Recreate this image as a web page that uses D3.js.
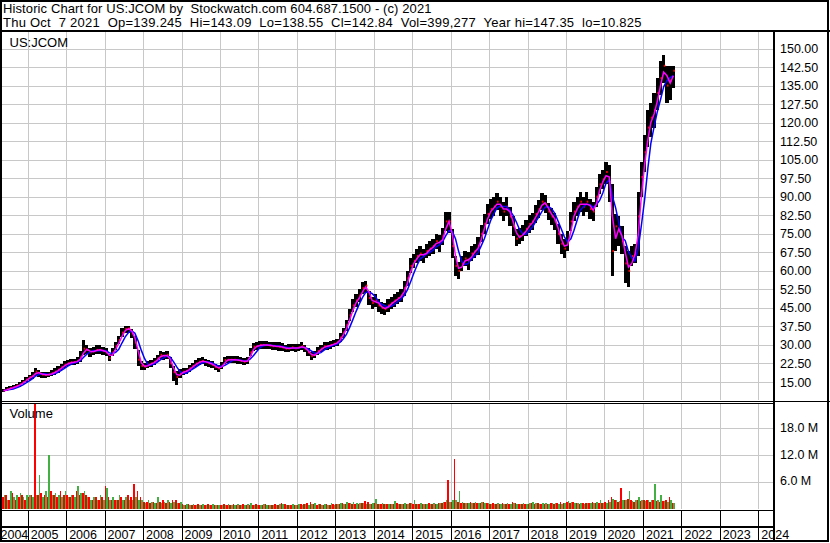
<!DOCTYPE html>
<html><head><meta charset="utf-8">
<script src="https://cdn.jsdelivr.net/npm/d3@7"></script>
<style>
html,body{margin:0;padding:0;background:#fff;}
svg{display:block;font-family:"Liberation Sans",Arial,sans-serif;}
text{white-space:pre;}
</style></head><body>
<svg id="chart" width="830" height="543"></svg>
<script>
// ---------- texts ----------
const titleLine1 = "Historic Chart for US:JCOM by  Stockwatch.com 604.687.1500 - (c) 2021";
const titleLine2 = "Thu Oct  7 2021  Op=139.245  Hi=143.09  Lo=138.55  Cl=142.84  Vol=399,277  Year hi=147.35  lo=10.825";
const symbolLabel = "US:JCOM";
const volumeLabel = "Volume";

// ---------- ticks ----------
const priceTicks = [15, 22.5, 30, 37.5, 45, 52.5, 60, 67.5, 75, 82.5, 90, 97.5, 105, 112.5, 120, 127.5, 135, 142.5, 150];
const volumeTicks = [6, 12, 18];           // millions
const yearLabels = ["2004","2005","2006","2007","2008","2009","2010","2011","2012","2013","2014","2015","2016","2017","2018","2019","2020","2021","2022","2023","2024"];

// ---------- monthly data, May 2004 .. Oct 2021 ----------
const firstYear = 2004, firstMonth = 4; // May (0-based)
const close = [
  11.5, 12, 12.5, 12.8, 13.5, 14, 15, 16,
  17, 17.5, 19.2, 18.5, 18, 17.8, 18, 18.5, 19.2, 20, 21, 22,
  22.6, 23, 23, 23.5, 25, 28.5, 28, 27, 27.5, 28, 28, 27.5,
  27, 24.6, 27, 29.5, 32, 35, 36.5, 36.7, 34.7, 31, 24, 21.5,
  21.2, 22, 22.5, 23.2, 24.5, 26, 25.5, 26, 22.6, 19, 17, 18.5,
  19.2, 19.5, 20.5, 21.5, 22.5, 23.2, 23.5, 23, 22.6, 22, 21, 20.5,
  21.5, 23.9, 24, 24, 24, 23.9, 23.5, 23.2, 23.5, 27, 29.3, 29.5,
  30, 30, 30, 29.8, 29.5, 29.5, 29.3, 29, 28.5, 28.6, 29, 28.6,
  29, 29.5, 28.5, 27, 25.5, 26, 27.5, 28.5, 29.5, 29.5, 30, 30.5,
  31, 33, 35, 38, 42, 46, 48, 50, 53, 54, 49, 47,
  48, 46, 45, 44.5, 46, 47, 48, 49, 50, 53, 57, 62,
  64, 66, 67, 66, 68, 69, 70, 72, 71, 74, 80, 80,
  70, 62, 60, 63, 65, 64, 67, 68, 70, 75, 79, 83,
  85, 86, 88, 86, 84, 86, 82, 78, 73, 74, 75, 77,
  79, 80, 83, 85, 88, 87, 84, 82, 80, 75, 71, 69,
  72, 80, 84, 86, 88, 86, 88, 85, 84, 90, 95, 97,
  100, 96, 68, 78, 76, 72, 63, 60, 66, 67, 82, 98,
  108, 118, 122, 125, 132, 138, 143, 135, 137, 141
];
const high = [
  12.3, 12.8, 13.3, 13.6, 14.3, 15, 16, 17,
  18, 19, 20.8, 19.8, 19.2, 19, 19.2, 19.8, 20.5, 21.3, 22.4, 23.5,
  24, 24.3, 24.5, 25, 27.5, 32, 30, 28.8, 29.2, 29.8, 29.8, 29.2,
  28.6, 26.5, 28.8, 31.2, 33.8, 36.8, 37.5, 37.8, 36.5, 33.5, 28, 23.5,
  22.8, 23.4, 24, 24.6, 26, 27.5, 27.2, 27.5, 25, 21.5, 19.5, 20.3,
  20.6, 20.8, 21.8, 22.8, 23.9, 24.6, 25, 24.4, 24, 23.4, 22.4, 21.8,
  23, 25.3, 25.4, 25.5, 25.5, 25.4, 25, 24.6, 25, 28.6, 30.8, 31,
  31.5, 31.6, 31.5, 31.3, 31, 31, 31, 30.6, 30, 30.2, 30.5, 30.2,
  30.5, 31, 30, 28.6, 27, 27.5, 29, 30, 31, 31, 31.5, 32,
  32.5, 35, 37, 40, 44.5, 48.5, 50.5, 52.5, 55.5, 56, 52, 49.5,
  50.5, 48.5, 47.5, 47, 48.5, 49.5, 50.5, 51.5, 52.5, 56, 60, 65,
  67, 69, 70, 69, 71, 72, 73, 75, 74.5, 77.5, 84, 84,
  77, 66, 63.5, 66, 68, 67.5, 70, 71, 73.5, 78.5, 83, 87,
  89, 90, 91.5, 90, 88, 90, 86, 82, 77, 77.5, 78.5, 80.5,
  82.5, 83.5, 86.5, 88.5, 91.5, 90.5, 87.5, 85.5, 83.5, 79, 75, 73,
  76, 84, 88, 90, 92, 90, 92, 89, 88, 94, 99, 101,
  104, 103, 95, 83, 82, 78, 70, 68, 70, 71, 92, 104,
  115, 125, 128, 132, 138, 145, 147.4, 143, 143, 143.1
];
const low = [
  10.8, 11.2, 11.7, 12.0, 12.7, 13.1, 14.1, 15,
  16, 16.4, 17.6, 17.2, 16.8, 16.6, 16.9, 17.3, 18, 18.8, 19.8, 20.8,
  21.3, 21.8, 21.7, 22.2, 23.2, 26, 26.2, 25.3, 25.9, 26.4, 26.4, 25.8,
  25.4, 23.3, 25.4, 27.8, 30.2, 33.2, 35, 35, 32.8, 28.5, 21.5, 20,
  19.8, 20.6, 21, 21.8, 23, 24.4, 23.8, 24.4, 20.5, 15.5, 13.8, 16.8,
  17.9, 18.2, 19.2, 20.2, 21.2, 21.8, 22.1, 21.6, 21.2, 20.6, 19.7, 19.2,
  20.2, 22.4, 22.6, 22.6, 22.6, 22.4, 22.1, 21.8, 22.1, 25.4, 27.7, 28,
  28.5, 28.5, 28.5, 28.3, 28, 28, 27.7, 27.4, 27, 27, 27.4, 27,
  27.5, 28, 27, 25.5, 24, 24.6, 26, 27, 28, 28, 28.5, 29,
  29.5, 31.2, 33, 35.8, 39.5, 43.5, 45.5, 47.5, 50.5, 51, 46, 44.5,
  45.5, 43.5, 42.5, 42, 43.5, 44.5, 45.5, 46.5, 47.5, 50, 54, 59,
  61, 63, 64, 63, 65, 66, 67, 69, 67.5, 70.5, 76, 75.5,
  65, 58, 56.5, 60, 62, 60.5, 64, 65, 66.5, 71.5, 75, 79,
  81, 82, 84.5, 82, 80, 82, 78, 74, 70, 71, 72, 74,
  75.5, 76.5, 79.5, 81.5, 84.5, 83.5, 80.5, 78.5, 76.5, 71, 67, 65,
  68, 76, 80, 82, 84, 82, 84, 81, 80, 86, 91, 93,
  95, 88, 58, 68, 70, 67, 55, 53.6, 62, 63, 66, 90,
  100, 110, 114, 118, 125, 131, 136, 128, 129, 134
];
// volume (millions): down-day and up-day peaks within each month
const volDown = [
  2.5, 3, 2, 3.5, 2, 2.5, 3, 2,
  2.5, 3, 26, 3, 3.5, 3, 2.5, 4, 3, 2.5, 4, 3,
  3, 2.5, 3, 4, 3, 3.5, 3, 2.5, 2, 2.5, 2, 2.5,
  5, 2.5, 2, 2, 2, 2.5, 2, 3, 2.5, 5.5, 4, 2.5,
  1.5, 1.5, 1.2, 1.5, 1.2, 1.5, 1.8, 1.2, 1.5, 2, 1.8, 1.2,
  1, 0.8, 1, 0.7, 0.8, 1, 0.8, 0.7, 1, 0.8, 0.7, 0.8,
  0.7, 1, 0.8, 0.7, 0.9, 0.7, 0.8, 1, 0.7, 0.8, 0.7, 0.9,
  0.8, 0.7, 0.9, 0.7, 0.8, 1, 0.8, 1.2, 0.9, 0.8, 0.7, 0.8,
  0.8, 0.9, 1, 1.3, 1.5, 1, 0.8, 0.9, 0.8, 1, 0.8, 0.9,
  1, 0.9, 1.2, 1, 1.3, 1, 1.1, 1, 1.2, 1.6, 1.5, 1,
  1.2, 1, 0.9, 1.1, 1, 0.9, 1, 1.2, 1, 0.9, 1, 1.2,
  1, 1.1, 1, 0.9, 1, 1.2, 1, 1.1, 1.3, 1.2, 1.5, 6.5,
  1.5, 11, 1.5, 1.2, 1.3, 1.2, 1.5, 1.2, 1.3, 1.2, 1.5, 1.3,
  1, 1.2, 0.9, 1, 1.3, 1, 1.1, 1.5, 1.2, 1, 0.9, 1,
  1.1, 1.2, 1, 1.3, 1, 1.1, 1, 1.2, 1, 1.3, 1.4, 1.2,
  1.5, 1.2, 1.5, 1.2, 1.1, 1.3, 1.2, 1.3, 1.4, 1.2, 1.3, 1.2,
  1.5, 1.8, 2.5, 1.8, 1.5, 4.7, 2, 2.2, 1.8, 1.5, 1.8, 1.6,
  1.8, 2, 1.5, 1.8, 1.6, 1.5, 1.6, 1.8, 2.5, 1.2
];
const volUp = [
  3, 2, 4, 2.5, 3, 3.5, 2.5, 3,
  3, 2.5, 3, 7.5, 2.5, 4, 12, 3, 3.5, 3, 2.5, 4,
  2.5, 3, 2.5, 5, 3.5, 4, 2.5, 2, 2.5, 2, 3, 2,
  4.5, 2, 2.5, 2, 3, 2, 2.5, 2, 2, 2.5, 2, 2,
  1.2, 1.8, 1.5, 1.2, 2.5, 1.2, 1.5, 1.8, 1.2, 1.5, 1.2, 1.5,
  0.8, 1, 0.7, 1, 0.8, 0.7, 1, 0.8, 0.7, 1, 0.8, 0.7,
  0.8, 0.7, 1, 0.8, 0.7, 0.9, 0.7, 0.8, 1, 1.2, 0.8, 0.7,
  0.7, 0.9, 0.7, 0.8, 0.7, 0.8, 0.9, 1, 0.8, 0.7, 0.9, 0.7,
  0.9, 0.8, 0.9, 0.8, 1, 1.2, 1, 0.8, 1, 0.8, 1.2, 0.8,
  1, 1.2, 1, 1.4, 1.2, 1.5, 1.2, 1.3, 1.2, 1.1, 1, 1.2,
  2.2, 1, 1.2, 1, 1.1, 1, 1.6, 1, 1.1, 1.2, 1, 1.3,
  2, 1, 1.2, 1, 1.1, 1, 1.2, 1, 1.2, 1.5, 1.8, 1.5,
  2, 1.8, 4, 1.5, 1.2, 1.3, 1.2, 1.5, 1.2, 1.5, 1.3, 1.2,
  1.1, 1, 1.3, 1, 0.9, 1.2, 1, 1.2, 1, 1.1, 1.2, 1,
  1.2, 1.5, 1.2, 1, 1.3, 1.2, 1.1, 1.3, 1.2, 1, 1.1, 1.3,
  1.6, 1.5, 1.2, 1.3, 1.2, 1.1, 1.3, 1.2, 1.2, 1.5, 2, 1.3,
  1.3, 1.5, 2.2, 2, 1.6, 1.8, 2, 3.9, 1.7, 2, 2.5, 1.8,
  1.6, 1.8, 2, 5.6, 1.8, 3, 1.6, 1.5, 1.8, 1.2
];

// ---------- layout ----------
const svg = d3.select("#chart");
const W = 830, H = 543;
const plotL = 2, plotR = 773;
const priceT = 32, priceB = 400, volT = 404, volB = 509;
const gridColor = "#c8c8c8";

const x = d3.scaleTime()
  .domain([new Date(2004, 0, 1), new Date(2024, 0, 1)])
  .range([-10.8, 758.3]);
const y = d3.scaleLinear().domain([15, 150]).range([382, 48.5]);
const yv = d3.scaleLinear().domain([0, 18]).range([508.5, 428.3]);

const months = close.map((_, i) => new Date(firstYear, firstMonth + i, 1));
const nextMonth = d => new Date(d.getFullYear(), d.getMonth() + 1, 1);
const midMonth = d => new Date(d.getFullYear(), d.getMonth(), 16);
const yearStarts = yearLabels.map(s => new Date(+s, 0, 1));

svg.append("rect").attr("width", W).attr("height", H).attr("fill", "#fff");

const defs = svg.append("defs");
defs.append("clipPath").attr("id", "clipP").append("rect")
  .attr("x", plotL).attr("y", priceT).attr("width", plotR - plotL).attr("height", priceB - priceT);
defs.append("clipPath").attr("id", "clipV").append("rect")
  .attr("x", plotL).attr("y", volT).attr("width", plotR - plotL).attr("height", volB - volT + 0.5);

// ---------- grid ----------
const grid = svg.append("g").attr("shape-rendering", "crispEdges").attr("stroke", gridColor).attr("stroke-width", 1);
yearStarts.slice(1).forEach(d => {
  const xx = Math.round(x(d)) + 0.5;
  grid.append("line").attr("x1", xx).attr("x2", xx).attr("y1", priceT).attr("y2", priceB);
  grid.append("line").attr("x1", xx).attr("x2", xx).attr("y1", volT).attr("y2", volB);
});
priceTicks.forEach(t => {
  const yy = Math.round(y(t)) + 0.5;
  grid.append("line").attr("x1", plotL).attr("x2", plotR).attr("y1", yy).attr("y2", yy);
});
volumeTicks.forEach(t => {
  const yy = Math.round(yv(t)) + 0.5;
  grid.append("line").attr("x1", plotL).attr("x2", plotR).attr("y1", yy).attr("y2", yy);
});

// ---------- price bars ----------
const pg = svg.append("g").attr("clip-path", "url(#clipP)");
pg.append("g").attr("shape-rendering", "crispEdges").selectAll("rect")
  .data(months).join("rect")
  .attr("x", d => x(d))
  .attr("width", d => x(nextMonth(d)) - x(d))
  .attr("y", (d, i) => y(high[i]))
  .attr("height", (d, i) => y(low[i]) - y(high[i]))
  .attr("fill", "#000");
pg.append("g").selectAll("rect")
  .data(months).join("rect")
  .attr("x", d => (x(d) + x(nextMonth(d))) / 2)
  .attr("width", d => (x(nextMonth(d)) - x(d)) / 2)
  .attr("y", (d, i) => y(close[i]) - 1)
  .attr("height", 2)
  .attr("fill", "#ff0000");

// moving averages of monthly closes
const movingAvg = (arr, n) => arr.map((_, i) => d3.mean(arr.slice(Math.max(0, i - n + 1), i + 1)));
const maShort = movingAvg(close, 2);
const maLong = movingAvg(close, 4);
const line = d3.line().x((d, i) => x(midMonth(months[i]))).y(d => y(d));
pg.append("path").datum(maLong).attr("d", line).attr("fill", "none").attr("stroke", "#0000ff").attr("stroke-width", 1.5);
pg.append("path").datum(maShort).attr("d", line).attr("fill", "none").attr("stroke", "#ff00ff").attr("stroke-width", 1.5);

// ---------- volume ----------
const vg = svg.append("g").attr("clip-path", "url(#clipV)").attr("shape-rendering", "crispEdges");
vg.selectAll("rect.dn").data(months).join("rect").attr("class", "dn")
  .attr("x", d => x(d))
  .attr("width", d => (x(nextMonth(d)) - x(d)) / 2)
  .attr("y", (d, i) => yv(volDown[i]))
  .attr("height", (d, i) => yv(0) - yv(volDown[i]) + 0.5)
  .attr("fill", "#ff0000");
vg.selectAll("rect.up").data(months).join("rect").attr("class", "up")
  .attr("x", d => (x(d) + x(nextMonth(d))) / 2)
  .attr("width", d => (x(nextMonth(d)) - x(d)) / 2)
  .attr("y", (d, i) => yv(volUp[i]))
  .attr("height", (d, i) => yv(0) - yv(volUp[i]) + 0.5)
  .attr("fill", "#44b044");

// ---------- frame lines ----------
const fr = svg.append("g").attr("shape-rendering", "crispEdges").attr("stroke", "#000");
fr.append("line").attr("x1", 0).attr("x2", W).attr("y1", 31).attr("y2", 31).attr("stroke-width", 2);
fr.append("line").attr("x1", 0).attr("x2", plotR).attr("y1", 401.5).attr("y2", 401.5).attr("stroke-width", 1);
fr.append("line").attr("x1", 0).attr("x2", plotR).attr("y1", 403.5).attr("y2", 403.5).attr("stroke-width", 1);
fr.append("line").attr("x1", plotR).attr("x2", W).attr("y1", 401.5).attr("y2", 401.5).attr("stroke-width", 1);
fr.append("line").attr("x1", 0).attr("x2", plotR).attr("y1", 510.5).attr("y2", 510.5).attr("stroke-width", 1);
fr.append("line").attr("x1", 0).attr("x2", plotR).attr("y1", 527).attr("y2", 527).attr("stroke-width", 2);
yearStarts.slice(1).forEach(d => {
  const xx = Math.round(x(d)) + 0.5;
  fr.append("line").attr("x1", xx).attr("x2", xx).attr("y1", 511).attr("y2", 541).attr("stroke-width", 1);
});
fr.append("rect").attr("x", 773).attr("y", 31).attr("width", 2).attr("height", 511).attr("fill", "#000").attr("stroke", "none");
fr.append("rect").attr("x", 1).attr("y", 1).attr("width", 827).attr("height", 540).attr("fill", "none").attr("stroke-width", 2);

// ---------- texts ----------
const txt = svg.append("g").attr("fill", "#000");
txt.append("text").attr("x", 3).attr("y", 13).attr("font-size", 13)
  .attr("textLength", 428.5).attr("lengthAdjust", "spacing").text(titleLine1);
txt.append("text").attr("x", 3).attr("y", 26.5).attr("font-size", 13)
  .attr("textLength", 638.5).attr("lengthAdjust", "spacing").text(titleLine2);
txt.append("text").attr("x", 9.5).attr("y", 46.5).attr("font-size", 13).text(symbolLabel);
txt.append("text").attr("x", 9.5).attr("y", 418).attr("font-size", 13).text(volumeLabel);

// right price axis
txt.append("g").selectAll("text").data(priceTicks).join("text")
  .attr("x", 780).attr("y", d => y(d) + 4.5).attr("font-size", 12.5)
  .text(d => d3.format(".2f")(d));
// right volume axis
txt.append("g").selectAll("text").data(volumeTicks).join("text")
  .attr("x", 780).attr("y", d => yv(d) + 3.5).attr("font-size", 12.5)
  .text(d => d3.format(".1f")(d) + " M");
// year labels
txt.append("g").selectAll("text").data(yearLabels).join("text")
  .attr("x", (d, i) => Math.max(x(yearStarts[i]) + 3, 0.5))
  .attr("y", 539).attr("font-size", 12.5)
  .text(d => d);
</script>
</body></html>
